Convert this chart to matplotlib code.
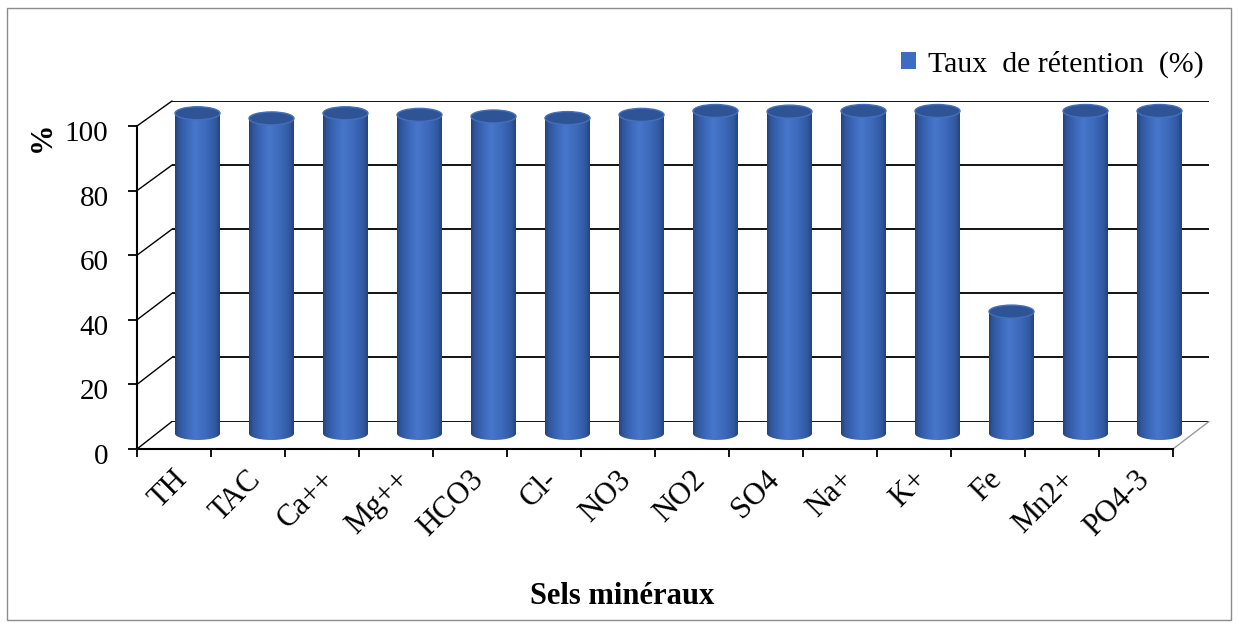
import numpy as np
import matplotlib
matplotlib.use("Agg")
import matplotlib.pyplot as plt
from matplotlib.patches import Ellipse, PathPatch, Rectangle, Patch, ConnectionPatch
from matplotlib.path import Path
from matplotlib.colors import LinearSegmentedColormap
from matplotlib.transforms import ScaledTranslation

plt.rcParams['font.family'] = ['Liberation Serif', 'DejaVu Serif']

# --- data -------------------------------------------------------------
categories = ['TH', 'TAC', 'Ca++', 'Mg++', 'HCO3', 'Cl-', 'NO3', 'NO2',
              'SO4', 'Na+', 'K+', 'Fe', 'Mn2+', 'PO4-3']
retention = [99.3, 97.7, 99.3, 98.8, 98.3, 97.8, 98.8, 100.0,
             99.8, 100.0, 100.0, 37.8, 100.0, 100.0]
y_ticks = [0, 20, 40, 60, 80, 100]
series_name = 'Taux  de rétention  (%)'
x_title = 'Sels minéraux'
y_title = '%'

# --- figure / pseudo-3D planes (front, cylinder plane, back wall) ------
W, H = 1239, 627
fig = plt.figure(figsize=(W / 100, H / 100), dpi=100)


def box(left, top, right, bottom):
    return [left / W, 1 - bottom / H, (right - left) / W, (bottom - top) / H]


n = len(categories)
ax_back = fig.add_axes(box(172, 101, 1209, 421.5))
ax_front = fig.add_axes(box(137, 126, 1173, 449))

# cylinder plane sits between front and back; padded so caps are not clipped
mid_top, mid_bottom = 111.0, 433.5
mid_px_y = (mid_bottom - mid_top) / 100.0      # pixels per percent
pad_u = 12.0
ax_mid = fig.add_axes(box(160.5, mid_top - pad_u * mid_px_y,
                          1196.5, mid_bottom + pad_u * mid_px_y))

for a in (ax_back, ax_front):
    a.set_xlim(0, n)
    a.set_ylim(0, 100)
    a.patch.set_alpha(0)
ax_mid.patch.set_alpha(0)
ax_back.axis('off')
ax_mid.axis('off')
ax_back.set_zorder(0)
ax_mid.set_zorder(2)
ax_front.set_zorder(1)

# back wall gridlines
ax_back.hlines(y_ticks, 0, n, colors='black', lw=1.3)

# side wall and floor edges
for v in y_ticks:
    con = ConnectionPatch(xyA=(0, v), coordsA=ax_front.transData,
                          xyB=(0, v), coordsB=ax_back.transData,
                          color='black', lw=1.0)
    fig.add_artist(con)
fig.add_artist(ConnectionPatch(xyA=(n, 0), coordsA=ax_front.transData,
                               xyB=(n, 0), coordsB=ax_back.transData,
                               color='#9a9a9a', lw=1.0))

# --- cylinders ----------------------------------------------------------
body_cmap = LinearSegmentedColormap.from_list(
    'cyl', [(0.0, '#253f78'), (0.07, '#2f5398'), (0.25, '#3b66b8'),
            (0.45, '#4677cb'), (0.7, '#3d69ba'), (0.9, '#3159a0'),
            (1.0, '#26427c')])
gradient = np.linspace(0, 1, 256).reshape(1, -1)

cyl_w = 45 / 74.0                      # cylinder width, category units
ell_h = 13 / mid_px_y                  # cap ellipse height, percent units
t = np.linspace(np.pi, 2 * np.pi, 60)

for i, v in enumerate(retention):
    xc = i + 0.5
    x0, x1 = xc - cyl_w / 2, xc + cyl_w / 2
    bottom_x = xc + (cyl_w / 2) * np.cos(t)
    bottom_y = (ell_h / 2) * np.sin(t)
    verts = [(x0, v)] + list(zip(bottom_x, bottom_y)) + [(x1, v), (x0, v)]
    codes = [Path.MOVETO] + [Path.LINETO] * (len(verts) - 2) + [Path.CLOSEPOLY]
    body = PathPatch(Path(verts, codes), facecolor='none', edgecolor='none',
                     transform=ax_mid.transData)
    ax_mid.add_patch(body)
    im = ax_mid.imshow(gradient, cmap=body_cmap, aspect='auto',
                       extent=(x0, x1, -ell_h / 2, v), zorder=2,
                       interpolation='bilinear')
    im.set_clip_path(body)
    cap = Ellipse((xc, v), cyl_w, ell_h, facecolor='#2f5496',
                  edgecolor='#4470bb', lw=1.0, zorder=3)
    ax_mid.add_patch(cap)

ax_mid.set_xlim(0, n)
ax_mid.set_ylim(-pad_u, 100 + pad_u)

# --- front axes: spines, ticks, labels ----------------------------------
ax_front.spines['top'].set_visible(False)
ax_front.spines['right'].set_visible(False)
for s in ('left', 'bottom'):
    ax_front.spines[s].set_linewidth(1.5)
ax_front.set_yticks(y_ticks)
ax_front.tick_params(axis='y', direction='out', length=6.5, width=1.3,
                     pad=14, labelsize=21)
ax_front.set_xticks(np.arange(0, n + 1))
ax_front.set_xticklabels([])
ax_front.set_xticks(np.arange(n) + 0.5, minor=True)
ax_front.set_xticklabels(categories, minor=True, rotation=45, ha='right',
                         va='center', rotation_mode='anchor')
ax_front.tick_params(axis='x', which='major', direction='out', length=6,
                     width=1.3)
ax_front.tick_params(axis='x', which='minor', length=0, pad=19, labelsize=22)

dy_shift = ScaledTranslation(0, -5 / 100, fig.dpi_scale_trans)
for lab in ax_front.get_yticklabels():
    lab.set_transform(lab.get_transform() + dy_shift)
dx_shift = ScaledTranslation(9 / 100, 0, fig.dpi_scale_trans)
for lab in ax_front.get_xticklabels(minor=True):
    lab.set_transform(lab.get_transform() + dx_shift)

fig.text(42 / W, 1 - 137 / H, y_title, rotation=90, fontsize=22,
         fontweight='bold', ha='center', va='center')
fig.text(622 / W, 1 - 596 / H, x_title, fontsize=22, fontweight='bold',
         ha='center', va='center')

fig.legend(handles=[Patch(facecolor='#3d6cc2', edgecolor='none')],
           labels=[series_name], loc='center right',
           bbox_to_anchor=(1204 / W, 1 - 64 / H), frameon=False,
           fontsize=21.5, handlelength=0.5, handleheight=0.5,
           handletextpad=0.4, borderaxespad=0, borderpad=0)

# outer chart border
fig.patches.append(Rectangle((7 / W, 1 - 620 / H), (1231 - 7) / W,
                             (620 - 8) / H, transform=fig.transFigure,
                             fill=False, edgecolor='#8c8c8c', lw=1.0))

fig.savefig('out.png', dpi=100)
